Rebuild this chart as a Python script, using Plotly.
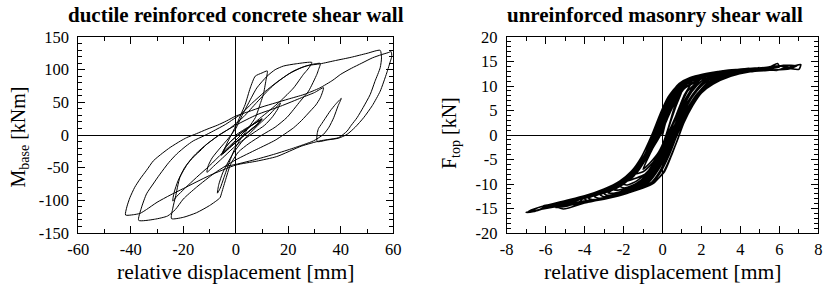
import plotly.graph_objects as go

# ---------------- data: ductile reinforced concrete shear wall (disp mm, moment kNm) -------------
rc_c1 = [(0, 0), (3, 8), (6, 15), (9, 22), (10, 24), (8, 16), (5, 6), (2, -4), (-1, -14), (-3, -22), (-5, -29),
         (-4, -20), (-2, -10), (1, 0), (4, 9), (7, 17), (9.5, 23), (8, 15), (5, 5), (2, -5), (-1, -15), (-4, -25), (-5.5, -31),
         (-4.5, -22), (-2.5, -12), (0.5, -1), (3.5, 8), (6.5, 16), (10, 25), (9, 19), (6, 9), (3, -1), (0, -11), (-3, -21), (-5, -28)]
rc_c2 = [(-3.5, -14), (-1.5, 2), (0.5, 18), (2, 32), (3.6, 47), (5.5, 72), (7.4, 90), (10, 95), (12, 98),
         (11.5, 84), (10.5, 62), (9.5, 50), (7.5, 27), (5, 12), (2, -5), (-0.5, -22), (-2.5, -42), (-4.5, -65), (-6, -82), (-7, -89)]
rc_c3 = [(-6.5, -76), (-5, -58), (-3.4, -45), (-1, -28), (2, -12), (5, 1), (9, 17), (13, 32), (17, 49),
         (16, 40), (14, 28), (11, 15), (7, 4), (3, -7), (-1, -20), (-5, -35), (-8.5, -48), (-11, -57)]
rc_c4 = [(-10.5, -47), (-9, -35), (-6, -20), (-3, -6), (0, 10), (2.4, 30), (5, 50), (8, 72), (11.9, 90), (15, 100),
         (18.2, 105.6), (23, 109), (29, 111),
         (27.5, 101), (25.8, 93), (22, 72), (17, 52), (13, 38), (9, 25), (4, 8), (0, -8), (-5, -27), (-10, -47),
         (-15, -65), (-19.5, -82), (-22.5, -94), (-24, -101)]
rc_c5 = [(-23.5, -88), (-22, -70), (-19.5, -50), (-16, -32), (-12, -17), (-7, -2), (-2, 11), (3, 28), (8, 50), (14, 75),
         (20, 93), (25, 103), (29, 108), (32.2, 109.5),
         (31.5, 100), (30.9, 93), (27.7, 67), (24.6, 52), (19.5, 27), (15, 12), (10, 0), (5, -13), (1, -26), (-2, -45),
         (-4, -70), (-5.5, -90), (-6, -96), (-10, -108), (-15, -119), (-20, -126), (-24.5, -128)]
rc_c6 = [(-24, -112), (-23, -95), (-21.3, -65), (-18.5, -45), (-16.2, -34), (-13, -22), (-11, -14), (-6, 1), (0, 15),
         (8, 31), (17, 44), (25, 57), (30, 65), (33.4, 72.4),
         (32.2, 57), (30.5, 46), (28.4, 36.7), (25, 22), (22, 11), (15, -8), (8, -22), (0, -38), (-8, -58), (-15, -80),
         (-20, -98), (-23, -114), (-26, -124), (-31, -129), (-37, -130.6)]
rc_c7 = [(-36, -112), (-34, -90), (-31.5, -75), (-28.9, -60), (-25.5, -42), (-22.5, -29), (-19, -17), (-16.2, -9),
         (-12, -1), (-8.6, 6), (-4, 16), (-1, 24), (2, 32), (6, 48), (11, 66), (16, 82), (22, 98), (27, 106),
         (32.2, 109), (38, 114), (44, 119), (50, 125), (55, 129.6),
         (55.5, 118), (55, 103), (53, 82), (51.2, 62), (48.5, 42), (46.2, 26.5), (44, 15), (42.4, 6), (39.2, -4),
         (35, -7), (32, -9), (25, -17), (15.6, -33), (8, -40), (0, -46), (-10, -62), (-20, -82), (-25, -92),
         (-30, -103), (-34, -114), (-36.5, -120), (-39, -122), (-42, -122.5)]
rc_c8 = [(-41.5, -110), (-40.3, -95.5), (-38.5, -80), (-36.5, -67.5), (-34, -54), (-31.4, -39.5), (-28, -28),
         (-25, -19), (-21, -9), (-18.7, -4), (-15, 2), (-11, 8.8), (-7, 15), (-3.5, 21.6), (0, 29), (5, 36), (10, 43),
         (15, 49), (20, 55), (26, 62), (32, 72), (37, 84), (40, 93), (44, 102), (48, 110), (52, 118), (55.5, 123),
         (58, 126), (59.2, 127.5),
         (59.4, 120), (58.9, 113), (57.5, 95), (55, 67), (52, 45), (48.7, 26.5), (45.5, 12), (42.4, 1), (39, -5),
         (35, -7.5), (31, -10)]
rc_c9 = [(31, 2), (31.5, 10), (32.5, 16), (34, 25), (36, 37), (38, 47), (40.2, 56),
         (39, 45), (37.3, 26.5), (35.5, 12), (33.4, 1), (29.6, -9), (22, -20), (15, -29), (8, -37), (0, -45), (-4, -48)]

rc_xtick_vals = [-60, -40, -20, 0, 20, 40, 60]
rc_xtick_text = ["-60", "-40", "-20", "0", "20", "40", "60"]
rc_ytick_vals = [-150, -100, -50, 0, 50, 100, 150]
rc_ytick_text = ["-150", "-100", "-50", "0", "50", "100", "150"]

# ---------------- data: unreinforced masonry shear wall (disp mm, force kN) -------------
urm_c1 = [(0, 0), (0.3, 4.5), (0.7, 7.5), (1.0, 9.0), (0.7, 6.0), (0.4, 2.5), (0.15, -0.5), (-0.2, -3.5), (-0.6, -5.5),
          (-1.0, -7.0), (-0.6, -3.5), (-0.1, 0.5), (0.25, 4.0), (0.6, 7.0), (0.9, 8.6), (0.6, 5.5), (0.3, 1.5),
          (0.05, -1.5), (-0.3, -4.5), (-0.7, -6.5), (-1.0, -7.5)]
urm_c2 = [(-1.5, -8.0), (-1.0, -5.5), (-0.5, -2.0), (-0.2, 0.5), (0.2, 4.5), (0.6, 7.8), (1.0, 9.8), (1.5, 10.8),
          (1.1, 8.0), (0.7, 4.0), (0.25, -0.5), (-0.1, -4.5), (-0.5, -7.0), (-1.0, -8.2), (-1.5, -9.0)]
urm_c21 = [(-1.8, -9.4), (-1.3, -7.6), (-0.8, -4.6), (-0.4, -1.9), (-0.05, 0.5), (0.35, 4.4), (0.75, 7.6), (1.2, 9.7),
           (1.8, 10.9),
           (1.3, 9.0), (0.9, 5.8), (0.5, 2.2), (0.1, -1.2), (-0.3, -4.6), (-0.75, -7.4), (-1.3, -9.3), (-1.8, -10.2)]
urm_c3 = [(-2, -10), (-1.5, -8.5), (-1.05, -6), (-0.65, -3.5), (-0.25, 0), (0.15, 3.8), (0.55, 7.2), (1.0, 9.6),
          (1.5, 11), (2, 11.6),
          (1.6, 10), (1.2, 7.5), (0.75, 4), (0.3, 0), (-0.1, -3.8), (-0.5, -6.8), (-1.0, -9), (-1.5, -10.2), (-2, -10.8)]
urm_c4 = [(-2.2, -10.4), (-1.6, -8.6), (-1.0, -5.6), (-0.55, -3.0), (-0.1, 0), (0.3, 3.8), (0.7, 7), (1.2, 9.8),
          (1.7, 11), (2.2, 11.7),
          (1.7, 10), (1.2, 7), (0.7, 3.4), (0.2, -0.5), (-0.2, -4), (-0.6, -7), (-1.1, -9.2), (-1.7, -10.6), (-2.2, -11.2)]
urm_c5 = [(-2.5, -11.2), (-2, -10), (-1.4, -7.8), (-0.85, -4.8), (-0.3, 0), (0.15, 4.2), (0.6, 7.8), (1.1, 10.2),
          (1.7, 11.4), (2.5, 12.2),
          (2, 11), (1.5, 8.8), (1.0, 5.2), (0.4, 0), (0, -3.8), (-0.4, -7), (-0.9, -9.2), (-1.6, -10.8), (-2.5, -11.9)]
urm_c16 = [(-2.8, -11.8), (-2.1, -10.3), (-1.5, -8.0), (-0.95, -5.0), (-0.5, -2.4), (-0.15, 0.3), (0.25, 4.2),
           (0.7, 7.8), (1.25, 10.4), (1.9, 11.8), (2.4, 12.3), (2.8, 12.6),
           (2.3, 11.6), (1.8, 9.6), (1.3, 6.8), (0.8, 3.2), (0.3, -0.3), (-0.1, -4.0), (-0.55, -7.2), (-1.05, -9.4),
           (-1.8, -11.0), (-2.8, -12.3)]
urm_c6 = [(-3, -12), (-2.3, -10.6), (-1.6, -8.4), (-1.0, -5.3), (-0.35, 0), (0.1, 4.2), (0.55, 7.8), (1.1, 10.5),
          (1.8, 11.8), (2.5, 12.4), (3, 12.7),
          (2.5, 11.8), (1.9, 9.8), (1.4, 7), (0.9, 3.6), (0.45, 0), (0.05, -3.8), (-0.35, -7), (-0.9, -9.5),
          (-1.7, -11.2), (-2.4, -12.1), (-3, -12.6)]
urm_c7 = [(-3.2, -12.2), (-2.4, -10.8), (-1.7, -8.6), (-1.15, -5.6), (-0.65, -2.8), (-0.2, 0.5), (0.2, 4.2),
          (0.65, 7.8), (1.2, 10.4), (1.9, 11.8), (2.6, 12.5), (3.2, 12.9),
          (2.6, 12), (2.0, 10.2), (1.4, 7.4), (0.85, 3.6), (0.35, 0), (-0.05, -3.8), (-0.45, -7), (-1.0, -9.6),
          (-1.8, -11.3), (-2.5, -12.2), (-3.2, -12.9)]
urm_c8 = [(-3.5, -12.6), (-2.7, -11.2), (-2, -9.6), (-1.3, -6.8), (-0.8, -3.6), (-0.4, 0), (0.05, 4.2), (0.5, 7.9),
          (1.1, 10.7), (1.8, 12), (2.6, 12.7), (3.5, 13.1),
          (2.8, 12.2), (2.1, 10.4), (1.5, 7.6), (1.0, 4), (0.5, 0), (0.1, -3.8), (-0.3, -7), (-0.8, -9.5),
          (-1.6, -11.4), (-2.5, -12.5), (-3.5, -13.3)]
urm_c17 = [(-3.8, -12.9), (-2.9, -11.5), (-2.1, -9.8), (-1.45, -7.2), (-0.9, -3.9), (-0.28, 0.6), (0.15, 4.6),
           (0.6, 8.2), (1.15, 10.8), (1.9, 12.2), (2.8, 12.9), (3.8, 13.3),
           (3.0, 12.3), (2.3, 10.6), (1.75, 8.2), (1.2, 4.8), (0.62, 0), (0.25, -3.6), (-0.2, -7.0), (-0.7, -9.6),
           (-1.6, -11.6), (-2.6, -12.6), (-3.8, -13.5)]
urm_c9 = [(-4, -13), (-3, -11.6), (-2.2, -10), (-1.5, -7.6), (-0.95, -4.4), (-0.42, 0), (0.0, 4.1), (0.45, 7.8),
          (1.0, 10.6), (1.7, 12), (2.6, 12.8), (3.3, 13.1), (4, 13.3),
          (3.2, 12.5), (2.4, 10.8), (1.7, 8), (1.1, 4.2), (0.55, 0), (0.15, -3.8), (-0.3, -7.2), (-0.8, -9.7),
          (-1.7, -11.6), (-2.7, -12.7), (-4, -13.8)]
urm_c10 = [(-4.2, -13.3), (-3.2, -11.9), (-2.4, -10.3), (-1.7, -8.2), (-1.1, -5.2), (-0.65, -2.6), (-0.3, 0.3),
           (0.1, 4.2), (0.55, 7.8), (1.1, 10.6), (1.8, 12), (2.7, 12.8), (3.5, 13.1), (4.2, 13.4),
           (3.4, 12.6), (2.5, 10.9), (1.8, 8.3), (1.2, 4.5), (0.7, 1.5), (0.4, -1.5), (0.05, -4.5), (-0.35, -7.3),
           (-0.9, -9.8), (-1.8, -11.7), (-2.9, -12.8), (-4.2, -13.9)]
urm_c11 = [(-4.5, -13.6), (-3.5, -12.2), (-2.5, -10.7), (-1.7, -8.4), (-1.05, -5), (-0.45, 0), (0, 4.3), (0.45, 7.8),
           (1.0, 10.6), (1.8, 12.1), (2.8, 12.9), (3.7, 13.3), (4.5, 13.6),
           (3.6, 12.7), (2.6, 11), (1.9, 8.6), (1.25, 4.8), (0.6, 0), (0.2, -3.8), (-0.25, -7.3), (-0.8, -9.9),
           (-1.8, -11.8), (-3, -13), (-4.5, -14.2)]
urm_c20 = [(-4.8, -13.9), (-3.8, -12.7), (-2.8, -11.3), (-2.0, -9.6), (-1.4, -7.2), (-0.85, -4.2), (-0.2, 0.5),
           (0.2, 4.6), (0.65, 8.2), (1.2, 10.8), (1.9, 12.1), (2.9, 12.9), (4.0, 13.4), (4.8, 13.6),
           (4.0, 12.9), (3.1, 12.0), (2.3, 10.2), (1.6, 7.2), (1.0, 3.5), (0.35, -0.5), (-0.05, -4.2), (-0.5, -7.6),
           (-1.05, -10.0), (-2.0, -11.9), (-3.2, -13.1), (-4.8, -14.3)]
urm_c12 = [(-5, -14), (-4, -12.8), (-3, -11.4), (-2.2, -9.8), (-1.5, -7.4), (-1.0, -4.6), (-0.45, 0), (0, 4.3),
           (0.4, 7.6), (0.95, 10.4), (1.6, 11.8), (2.5, 12.7), (3.5, 13.2), (5, 13.8),
           (4, 13), (3, 11.8), (2.3, 10), (1.7, 7.6), (1.2, 4), (0.68, 0), (0.3, -3.8), (-0.15, -7.5), (-0.6, -9.8),
           (-1.5, -11.5), (-2.6, -12.7), (-3.8, -13.6), (-5.1, -15.1)]
urm_c18 = [(-5.5, -14.4), (-4.5, -13.2), (-3.5, -12.0), (-2.5, -10.5), (-1.8, -8.6), (-1.2, -5.8), (-0.75, -3.0),
           (-0.38, 0), (0.05, 4.0), (0.5, 7.8), (1.05, 10.6), (1.7, 12.0), (2.6, 12.8), (3.8, 13.3), (5.5, 13.8),
           (4.6, 13.2), (3.6, 12.4), (2.7, 11.0), (2.0, 8.9), (1.45, 6.0), (1.05, 2.8), (0.72, 0), (0.35, -3.5),
           (-0.05, -7.0), (-0.55, -9.6), (-1.4, -11.3), (-2.5, -12.5), (-3.8, -13.5), (-5.5, -14.6)]
urm_c13 = [(-4.9, -13.4), (-4, -12.6), (-3, -11.2), (-2.2, -9.8), (-1.5, -7.5), (-1.0, -4.8), (-0.47, 0), (0, 4.3),
           (0.4, 7.6), (0.9, 10.3), (1.4, 11.7), (2.2, 12.5), (3.3, 13.2), (4.5, 13.5), (5.5, 13.9), (5.9, 14.6),
           (6.0, 13.9), (5, 13.3), (3.8, 12.5), (2.8, 11), (2.1, 9.2), (1.6, 7), (1.15, 3.6), (0.75, 0), (0.35, -4),
           (-0.1, -7.6), (-0.5, -9.6), (-1.2, -11), (-2.2, -12.2), (-3.5, -13.2), (-4.8, -14), (-6.1, -14.4)]
urm_c19 = [(-6, -14.8), (-5, -13.8), (-4, -12.9), (-3, -11.6), (-2.2, -10.1), (-1.5, -7.9), (-0.95, -4.8), (-0.3, 0),
           (0.1, 4.2), (0.55, 8.0), (1.15, 10.9), (1.9, 12.2), (3.0, 13.0), (4.5, 13.5), (6, 14.0),
           (5.2, 13.5), (4.2, 13.0), (3.2, 12.0), (2.4, 10.4), (1.8, 8.0), (1.25, 4.6), (0.55, 0), (0.15, -3.8),
           (-0.3, -7.3), (-0.85, -10.0), (-1.8, -11.9), (-3.0, -13.1), (-4.5, -14.0), (-6, -14.9)]
urm_c14 = [(-6.6, -15.6), (-7, -15.8), (-6.4, -15.4), (-6, -14.6), (-5, -13.6), (-4, -12.6), (-3, -11.3),
           (-2.2, -9.8), (-1.5, -7.6), (-1.0, -4.8), (-0.5, 0), (-0.05, 4.3), (0.35, 7.6), (0.9, 10.3), (1.5, 11.8),
           (2.5, 12.7), (3.5, 13.2), (5, 13.6), (6, 14.1), (6.5, 13.8), (7.1, 14.4),
           (7.0, 13.4), (6.3, 13.7), (5.9, 13.2), (5, 13.4), (3.8, 12.4), (2.6, 10.7), (2.0, 9.3), (1.58, 7.3),
           (1.2, 3.8), (0.81, -0.5), (0.45, -4.3), (0.1, -7.5), (-0.4, -9.5), (-0.9, -10.4), (-1.84, -11.7),
           (-3, -12.8), (-4, -13.6), (-5, -14.3), (-6, -15.0), (-6.9, -15.6)]
urm_c15 = [(-6.2, -14.6), (-5, -13.4), (-4, -12.4), (-3, -11), (-2.2, -9.4), (-1.6, -7.4), (-1.1, -4.6), (-0.55, 0),
           (-0.1, 4.5), (0.3, 7.8), (0.85, 10.5), (1.4, 11.7), (2.4, 12.6), (3.3, 13.2), (4.5, 13.4), (5.5, 13.7),
           (6.2, 14.2), (6.9, 14.1),
           (6.5, 13.5), (5.5, 13.2), (4.5, 12.9), (3.5, 12), (2.6, 10.4), (2.0, 8.6), (1.55, 6), (1.1, 2.5),
           (0.75, -1.2), (0.4, -4.6), (0.05, -7.6), (-0.45, -9.8), (-1.0, -10.8), (-2, -12), (-3, -12.9),
           (-4.2, -13.6), (-5, -14.6), (-5.5, -14.8)]

urm_xtick_vals = [-8, -6, -4, -2, 0, 2, 4, 6, 8]
urm_xtick_text = ["-8", "-6", "-4", "-2", "0", "2", "4", "6", "8"]
urm_ytick_vals = [-20, -15, -10, -5, 0, 5, 10, 15, 20]
urm_ytick_text = ["-20", "-15", "-10", "-5", "0", "5", "10", "15", "20"]


def flatten(cycles):
    xs, ys = [], []
    for c in cycles:
        for px, py in c:
            xs.append(px)
            ys.append(py)
    return xs, ys


rc_x, rc_y = flatten([rc_c1, rc_c2, rc_c3, rc_c4, rc_c5, rc_c6, rc_c7, rc_c8, rc_c9])
urm_x, urm_y = flatten([urm_c1, urm_c2, urm_c21, urm_c3, urm_c4, urm_c5, urm_c16, urm_c6, urm_c7, urm_c8,
                        urm_c17, urm_c9, urm_c10, urm_c11, urm_c20, urm_c12, urm_c18, urm_c13, urm_c19,
                        urm_c14, urm_c15])

# The page body margin is removed by a post-script, so lay out directly in window pixels.
W, H = 829, 294
FONT = "Liberation Serif"


def px_x(p):
    return p / W


def px_y(p):
    return (H - p) / H


fig = go.Figure()
fig.add_trace(go.Scatter(x=rc_x, y=rc_y, mode="lines", xaxis="x", yaxis="y",
                         line=dict(color="black", width=1, shape="spline", smoothing=0.6),
                         hoverinfo="skip", showlegend=False))
fig.add_trace(go.Scatter(x=urm_x, y=urm_y, mode="lines", xaxis="x2", yaxis="y2",
                         line=dict(color="black", width=1.6, shape="spline", smoothing=0.6),
                         hoverinfo="skip", showlegend=False))


def ax(domain, rng, vals, text, minor_dtick, anchor, standoff):
    return dict(domain=domain, range=rng, anchor=anchor, automargin=False,
                tickmode="array", tickvals=vals, ticktext=text,
                showline=True, linecolor="black", linewidth=1, mirror="ticks",
                ticks="inside", ticklen=7, tickwidth=1, tickcolor="black",
                minor=dict(tickmode="linear", tick0=0, dtick=minor_dtick, ticks="inside", ticklen=4,
                           tickwidth=1, tickcolor="black", showgrid=False),
                showgrid=False, zeroline=True, zerolinecolor="black", zerolinewidth=1,
                tickfont=dict(family=FONT, size=16.5, color="black"), ticklabelstandoff=standoff,
                fixedrange=True)


ydom = [px_y(233), px_y(37)]
fig.update_layout(
    template="none",
    width=W, height=H, margin=dict(l=0, r=0, t=0, b=0, autoexpand=False),
    paper_bgcolor="white", plot_bgcolor="white",
    xaxis=ax([px_x(78.3), px_x(393.3)], [-60, 60], rc_xtick_vals, rc_xtick_text, 10, "y", 1),
    yaxis=ax(ydom, [-150, 150], rc_ytick_vals, rc_ytick_text, 10, "x", 5),
    xaxis2=ax([px_x(506.7), px_x(818.3)], [-8, 8], urm_xtick_vals, urm_xtick_text, 1, "y2", 1),
    yaxis2=ax(ydom, [-20, 20], urm_ytick_vals, urm_ytick_text, 1, "x2", 5),
)

ann = []
titles = [("<b>ductile reinforced concrete shear wall</b>", 235.8),
          ("<b>unreinforced masonry shear wall</b>", 655)]
for t, cx in titles:
    ann.append(dict(text=t, x=px_x(cx), y=px_y(14.5), xref="paper", yref="paper", showarrow=False,
                    xanchor="center", yanchor="middle", font=dict(family=FONT, size=21, color="black")))
for cx in (235.8, 662.5):
    ann.append(dict(text="relative displacement [mm]", x=px_x(cx), y=px_y(272), xref="paper", yref="paper",
                    showarrow=False, xanchor="center", yanchor="middle",
                    font=dict(family=FONT, size=21.6, color="black")))
ann.append(dict(text="M<sub>base</sub> [kNm]", x=px_x(18.5), y=px_y(137), xref="paper", yref="paper",
                showarrow=False, textangle=-90, xanchor="center", yanchor="middle",
                font=dict(family=FONT, size=20, color="black")))
ann.append(dict(text="F<sub>top</sub> [kN]", x=px_x(451), y=px_y(133), xref="paper", yref="paper",
                showarrow=False, textangle=-90, xanchor="center", yanchor="middle",
                font=dict(family=FONT, size=20, color="black")))
fig.update_layout(annotations=ann)

fig.write_html("out.html", config={"displayModeBar": False, "staticPlot": True},
               post_script="document.body.style.margin='0px';document.body.style.overflow='hidden';")
